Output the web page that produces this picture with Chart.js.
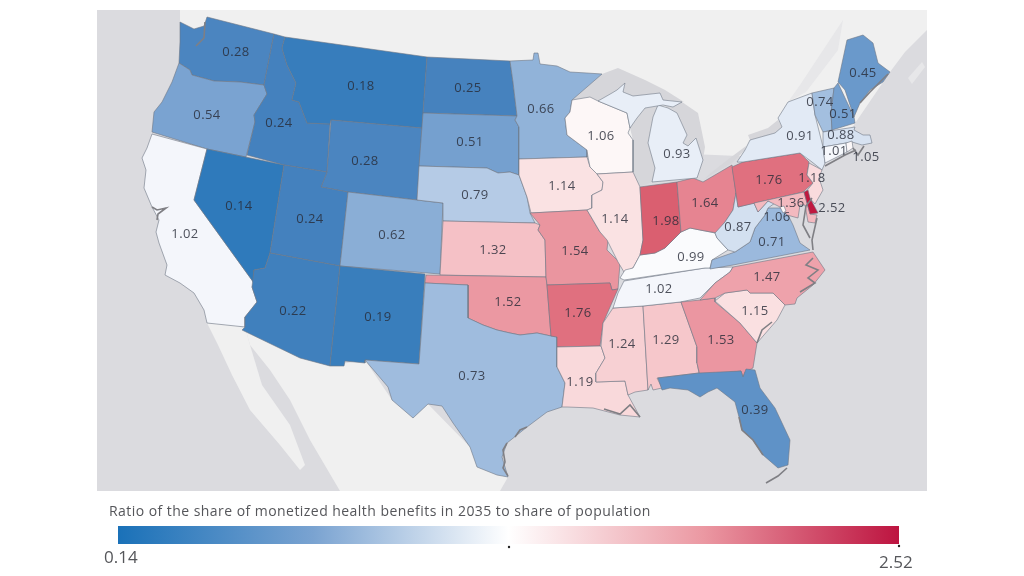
<!DOCTYPE html>
<html>
<head>
<meta charset="utf-8">
<title>Health benefits map</title>
<script src="https://cdn.jsdelivr.net/npm/chart.js@4"></script>
<style>
  html, body { margin: 0; padding: 0; background: #fff; }
  canvas { display: block; }
</style>
</head>
<body>
<canvas id="mapChart" width="1024" height="576"></canvas>
<script>
// values, same order everywhere
const stateNames = ['WA','OR','CA','ID','NV','MT','WY','UT','AZ','CO','NM','ND','SD','NE','KS','OK','TX','MN','IA','MO','AR','LA','WI','IL','MS','AL','TN','KY','IN','OH','MI','UP','GA','FL','SC','NC','VA','WV','PA','NY','VT','NH','ME','MA','CT','RI','NJ','MD','DE','DC'];
const stateValues = [0.28,0.54,1.02,0.24,0.14,0.18,0.28,0.24,0.22,0.62,0.19,0.25,0.51,0.79,1.32,1.52,0.73,0.66,1.14,1.54,1.76,1.19,1.06,1.14,1.24,1.29,1.02,0.99,1.98,1.64,0.93,0.93,1.53,0.39,1.15,1.47,0.71,0.87,1.76,0.91,0.74,0.51,0.45,0.88,1.01,1.05,1.18,1.36,2.52,1.06];
const legendTitle = 'Ratio of the share of monetized health benefits in 2035 to share of population';

// state outlines in map units
const WA = [[180,22],[194,29],[204,26],[207,17],[274,34],[264,85],[240,82],[214,81],[192,75],[190,70],[179,63],[180,42]];
const OR = [[179,63],[190,70],[192,75],[214,81],[240,82],[264,85],[267,94],[254,115],[255,122],[246,157],[207,149],[152,132],[154,112],[162,102],[172,82]];
const CA = [[152,134],[207,149],[194,200],[254,283],[252,287],[257,302],[245,317],[245,327],[207,323],[204,310],[194,293],[180,283],[165,275],[167,265],[159,243],[156,232],[159,220],[152,207],[144,188],[146,170],[142,158],[147,148]];
const ID = [[274,34],[285,37],[282,48],[287,65],[296,83],[292,100],[299,102],[307,123],[330,124],[327,172],[284,165],[247,155],[255,122],[254,115],[267,94],[264,85]];
const NV = [[207,149],[284,165],[270,253],[265,268],[254,270],[254,283],[194,200]];
const MT = [[285,37],[427,57],[422,128],[331,120],[330,124],[307,123],[299,102],[292,100],[296,83],[287,65],[282,48]];
const WY = [[331,120],[422,128],[417,200],[348,192],[321,187],[327,172]];
const UT = [[284,165],[327,172],[321,187],[348,192],[340,266],[270,253]];
const AZ = [[270,253],[340,266],[330,366],[300,358],[242,330],[245,327],[245,317],[257,302],[252,287],[254,270],[265,268]];
const CO = [[348,192],[417,200],[443,203],[440,274],[340,266]];
const NM = [[340,266],[425,274],[419,364],[365,360],[365,363],[345,361],[344,366],[330,366]];
const ND = [[427,57],[510,61],[513,82],[517,116],[423,113]];
const SD = [[423,113],[517,116],[515,120],[519,127],[519,175],[510,172],[498,173],[487,168],[419,166]];
const NE = [[419,166],[487,168],[498,173],[510,172],[519,175],[527,197],[530,213],[535,223],[443,221],[443,203],[417,200]];
const KS = [[443,221],[535,223],[540,225],[538,230],[545,240],[546,277],[440,275]];
const OK = [[426,275],[546,277],[547,285],[551,336],[537,333],[520,335],[510,333],[497,330],[483,325],[468,318],[468,285],[425,283]];
const TX = [[425,283],[468,285],[468,318],[483,325],[497,330],[510,333],[520,335],[537,333],[551,336],[557,337],[557,367],[565,383],[562,407],[547,412],[527,427],[507,443],[502,457],[508,477],[497,475],[477,467],[470,447],[453,423],[442,406],[428,404],[413,418],[392,400],[388,387],[365,360],[419,364]];
const MN = [[510,61],[533,60],[534,53],[538,53],[540,64],[557,66],[570,72],[587,73],[602,74],[587,87],[572,100],[570,112],[565,118],[567,135],[587,150],[587,157],[519,159],[519,127],[515,120],[517,116],[513,82]];
const IA = [[519,159],[587,157],[590,167],[597,174],[603,182],[602,190],[592,195],[592,208],[587,210],[531,213],[527,197],[519,175]];
const MO = [[530,213],[587,210],[590,215],[600,232],[608,240],[607,250],[620,263],[618,289],[612,290],[610,283],[547,285],[546,277],[545,240],[538,230],[540,225]];
const AR = [[547,285],[610,283],[612,290],[618,289],[603,323],[600,346],[557,347],[557,337],[551,336]];
const LA = [[557,347],[601,346],[605,358],[596,373],[596,382],[625,381],[628,395],[640,417],[620,415],[593,408],[567,407],[562,407],[565,383],[557,367]];
const WI = [[572,100],[590,97],[598,101],[627,113],[630,128],[628,133],[633,140],[633,172],[597,174],[590,167],[588,157],[587,150],[567,135],[565,118],[570,112]];
const IL = [[597,174],[633,172],[640,187],[643,240],[640,255],[633,268],[624,272],[618,262],[607,240],[600,232],[590,215],[587,210],[592,208],[592,195],[602,190],[603,182]];
const MS = [[613,308],[643,306],[648,390],[635,392],[628,395],[625,381],[596,382],[596,373],[605,358],[601,346],[603,323]];
const AL = [[643,306],[681,302],[697,347],[697,363],[699,373],[657,378],[662,388],[653,390],[651,384],[648,390]];
const TN = [[624,281],[705,268],[733,267],[730,272],[715,283],[700,298],[680,302],[643,306],[613,308],[618,293]];
const KY = [[625,270],[633,268],[640,255],[655,253],[665,248],[673,240],[681,232],[690,228],[700,230],[715,233],[717,238],[728,250],[712,260],[710,268],[705,268],[624,280],[620,278]];
const IN = [[640,187],[677,182],[681,232],[673,240],[665,248],[655,253],[640,255],[643,240]];
const OH = [[677,182],[693,178],[703,182],[732,165],[736,193],[733,210],[725,222],[717,233],[700,230],[690,228],[681,232]];
const MI = [[658,105],[668,108],[677,113],[687,135],[683,143],[688,146],[696,138],[703,160],[697,178],[652,182],[655,168],[648,143],[653,117]];
const UP = [[598,101],[612,93],[617,90],[625,83],[623,92],[633,96],[660,93],[663,100],[682,102],[673,107],[663,105],[645,108],[637,118],[630,128],[627,113]];
const GA = [[681,302],[700,300],[715,298],[715,302],[740,323],[757,343],[753,368],[745,372],[743,377],[741,371],[700,376],[697,363],[697,347]];
const FL = [[658,378],[699,373],[741,371],[743,377],[746,369],[755,370],[760,388],[775,408],[790,440],[788,465],[778,468],[763,455],[753,440],[742,430],[739,417],[735,402],[717,388],[708,392],[700,397],[688,390],[670,388],[662,390]];
const SC = [[715,301],[725,293],[747,290],[750,293],[773,293],[785,305],[777,320],[757,343],[740,323]];
const NC = [[733,267],[813,252],[825,270],[813,285],[797,298],[795,304],[785,305],[773,293],[750,293],[747,290],[725,293],[715,298],[700,300],[715,283],[730,272]];
const VA = [[710,269],[712,260],[735,252],[750,242],[755,228],[765,215],[768,208],[780,208],[788,215],[793,225],[800,243],[810,250],[733,265]];
const WV = [[736,193],[738,207],[754,203],[758,212],[768,201],[775,203],[768,208],[765,215],[755,228],[750,242],[735,252],[728,250],[717,238],[715,233],[725,222],[733,210]];
const PA = [[732,167],[743,162],[800,153],[809,162],[807,175],[813,183],[803,192],[738,207]];
const NY = [[737,162],[745,150],[750,140],[775,133],[782,127],[778,118],[788,102],[812,93],[815,115],[823,147],[825,163],[822,170],[812,162],[800,153],[743,162]];
const VT = [[812,93],[834,88],[831,113],[832,130],[823,132],[815,115]];
const NH = [[834,88],[838,83],[854,117],[855,123],[832,130],[831,113]];
const ME = [[838,82],[847,40],[863,35],[873,43],[878,63],[890,72],[883,82],[870,90],[860,103],[854,117],[845,90]];
const MA = [[823,132],[855,127],[854,130],[863,135],[870,135],[872,143],[862,145],[852,142],[823,147]];
const CT = [[823,147],[846,143],[847,152],[825,163]];
const RI = [[846,143],[852,141],[853,148],[847,152]];
const NJ = [[809,163],[822,170],[819,178],[823,190],[815,204],[805,193],[813,183],[807,175]];
const MD = [[754,203],[804,192],[810,214],[817,215],[815,223],[808,222],[805,205],[800,205],[798,218],[787,215],[780,207],[768,201],[758,212]];
const DE = [[804,192],[808,190],[810,198],[818,213],[810,214]];
const DC = [[780,207],[784,206],[786,211],[783,213]];
const stateOutlines = [WA,OR,CA,ID,NV,MT,WY,UT,AZ,CO,NM,ND,SD,NE,KS,OK,TX,MN,IA,MO,AR,LA,WI,IL,MS,AL,TN,KY,IN,OH,MI,UP,GA,FL,SC,NC,VA,WV,PA,NY,VT,NH,ME,MA,CT,RI,NJ,MD,DE,DC];

// where each value is written, UP stays unlabelled
const labelSpots = [[236,52],[207,115],[185,234],[279,123],[239,206],[361,86],[365,161],[310,219],[293,311],[392,235],[378,317],[468,88],[470,142],[475,195],[493,250],[508,302],[472,376],[541,109],[562,186],[575,251],[578,313],[580,382],[601,136],[615,219],[622,344],[666,340],[659,289],[691,257],[666,221],[705,203],[677,154],null,[721,340],[755,410],[755,311],[767,277],[772,242],[738,227],[769,180],[800,136],[820,102],[843,114],[863,73],[841,135],[834,151],[866,157],[812,178],[791,203],[832,208],[777,217]];

// the grey backdrop, canada, mexico and the lakes
const waterBox = [[97,10],[927,10],[927,491],[97,491]];
const canada = [[180,10],[927,10],[927,30],[905,52],[890,72],[830,160],[600,150],[300,100],[180,40]];
const novaScotia = [[908,78],[922,62],[925,67],[912,84]];
const baja = [[207,323],[245,327],[250,345],[262,385],[290,425],[305,465],[300,470],[280,445],[250,410],[232,375],[218,345]];
const mexico = [[245,327],[300,358],[330,366],[365,360],[392,400],[428,404],[470,447],[508,477],[500,491],[340,491],[310,440],[290,400],[270,370],[250,345]];
const superior = [[572,100],[602,74],[618,68],[645,80],[665,90],[684,102],[663,100],[660,93],[633,96],[623,92],[625,83],[617,90],[598,101]];
const michigan = [[630,128],[637,118],[645,108],[663,105],[658,105],[653,117],[648,143],[655,168],[652,182],[640,187],[633,172],[633,140]];
const huron = [[663,100],[682,102],[698,113],[705,147],[703,160],[696,138],[688,146],[683,143],[687,135],[677,113],[668,108],[663,105],[673,107]];
const erie = [[703,180],[732,163],[745,150],[746,146],[730,158],[712,172]];
const ontario = [[750,140],[775,133],[782,127],[778,120],[768,128],[748,135]];
const riverBand = [[788,102],[800,85],[843,20],[838,50],[806,92]];
const lakes = [superior, michigan, huron, erie, ontario];

// dark coast scribbles
const coastLines = [
  [[205,22],[204,38],[196,46]],
  [[152,207],[157,210],[166,208],[158,214],[157,220]],
  [[812,198],[806,206],[803,225],[810,238]],
  [[817,218],[812,240],[813,250]],
  [[813,258],[806,265],[818,270],[808,278],[815,283],[800,292]],
  [[757,343],[762,330],[772,322]],
  [[604,409],[620,414],[630,405],[640,417]],
  [[507,443],[503,450],[505,462],[503,468],[508,476]],
  [[527,427],[520,430],[515,437]],
  [[860,103],[870,92],[880,82],[888,74]],
  [[853,148],[858,155],[864,146]],
  [[825,166],[845,155],[856,150]],
  [[739,417],[742,430],[753,440],[763,455]],
  [[787,468],[778,476],[766,483]]
];

// legend bar and its two little marks
const legendBar = [[118,526],[899,526],[899,544],[118,544]];
const legendMarks = [[509,547],[899,546]];
const legendLabels = ['0.14','2.52'];

const colorStops = [[0.14,'#2f7abb'],[0.25,'#4682be'],[0.54,'#7aa3d1'],[0.73,'#9fbcde'],[0.91,'#e2eaf5'],[0.99,'#fafbfd'],[1.02,'#f4f6fb'],[1.03,'#f7f7fb'],[1.06,'#fdf7f7'],[1.14,'#fae2e3'],[1.32,'#f5c1c6'],[1.52,'#eb98a2'],[1.76,'#e0707f'],[1.98,'#da5f70'],[2.52,'#c0183f']];

function hexToRgb(hex) {
    return [1,3,5].map(i => parseInt(hex.substr(i,2),16));
}

function colorFor(v) {
    for (let i = 1; i < colorStops.length; i++) {
        if (v <= colorStops[i][0]) {
            const t = (v - colorStops[i-1][0]) / (colorStops[i][0] - colorStops[i-1][0]);
            const a = hexToRgb(colorStops[i-1][1]);
            const b = hexToRgb(colorStops[i][1]);
            return 'rgb(' + a.map((c,k) => Math.round(c + (b[k]-c)*t)).join(',') + ')';
        }
    }
    return colorStops[colorStops.length-1][1];
}

function toPoints(list) {
    return list.map(p => ({x:p[0], y:p[1]}));
}

function area(list, color, edge, edgeWidth) {
    return {
        data: toPoints(list.concat([list[0]])),
        showLine: true,
        fill: 'shape',
        backgroundColor: color,
        borderColor: edge || color,
        borderWidth: edgeWidth === undefined ? 0 : edgeWidth,
        pointRadius: 0,
        tension: 0
    };
}

const layers = [];
layers.push(area(waterBox, '#dbdbdf'));
layers.push(area(canada, '#f0f0f0'));
layers.push(area(novaScotia, '#e7e7e9'));
layers.push(area(baja, '#f0f0f0'));
layers.push(area(mexico, '#f0f0f0'));
layers.push(area(riverBand, '#e7e7e9'));
lakes.forEach(l => layers.push(area(l, '#d6d6da')));
stateOutlines.forEach((outline, i) => {
    layers.push(area(outline, colorFor(stateValues[i]), 'rgba(110,118,132,0.85)', 0.7));
});
coastLines.forEach(l => {
    layers.push({data: toPoints(l), showLine: true, fill: false, borderColor: '#7f7f84', borderWidth: 1.6, pointRadius: 0});
});
layers.push({
    data: toPoints(legendBar.concat([legendBar[0]])),
    showLine: true,
    fill: 'shape',
    pointRadius: 0,
    borderWidth: 0,
    backgroundColor: function (c) {
        const g = c.chart.ctx.createLinearGradient(118, 0, 899, 0);
        g.addColorStop(0, '#1a71b8');
        g.addColorStop(0.25, '#7aa3d1');
        g.addColorStop(0.5, '#ffffff');
        g.addColorStop(0.75, '#eb98a2');
        g.addColorStop(1, '#bd1440');
        return g;
    }
});
layers.push({data: toPoints(legendMarks), showLine: false, pointRadius: 1.2, pointBackgroundColor: '#222', pointBorderWidth: 0});

// text goes on last
const textPlugin = {
    id: 'mapText',
    afterDatasetsDraw(chart) {
        const ctx = chart.ctx;
        const sx = chart.scales.x, sy = chart.scales.y;
        ctx.save();
        ctx.textAlign = 'center';
        ctx.textBaseline = 'middle';
        ctx.font = '13px "Open Sans"';
        ctx.letterSpacing = '0.4px';
        ctx.fillStyle = 'rgba(40,44,56,0.82)';
        labelSpots.forEach((spot, i) => {
            if (!spot) return;
            ctx.fillText(stateValues[i].toFixed(2), sx.getPixelForValue(spot[0]), sy.getPixelForValue(spot[1]));
        });
        ctx.textAlign = 'left';
        ctx.font = '14px "Open Sans"';
        ctx.letterSpacing = '0.45px';
        ctx.fillStyle = '#55565a';
        ctx.fillText(legendTitle, sx.getPixelForValue(109), sy.getPixelForValue(512));
        ctx.font = '17px "Open Sans"';
        ctx.letterSpacing = '0px';
        ctx.fillText(legendLabels[0], sx.getPixelForValue(104), sy.getPixelForValue(558));
        ctx.fillText(legendLabels[1], sx.getPixelForValue(879), sy.getPixelForValue(563));
        ctx.restore();
    }
};

new Chart(document.getElementById('mapChart').getContext('2d'), {
    type: 'scatter',
    data: { datasets: layers.reverse() },
    options: {
        responsive: false,
        animation: false,
        clip: false,
        layout: { padding: 0, autoPadding: false },
        plugins: {
            legend: { display: false },
            title: { display: false },
            tooltip: { enabled: false }
        },
        scales: {
            x: { type: 'linear', min: 0, max: 1024, display: false },
            y: { type: 'linear', min: 0, max: 576, reverse: true, display: false }
        }
    },
    plugins: [textPlugin]
});
</script>
</body>
</html>
